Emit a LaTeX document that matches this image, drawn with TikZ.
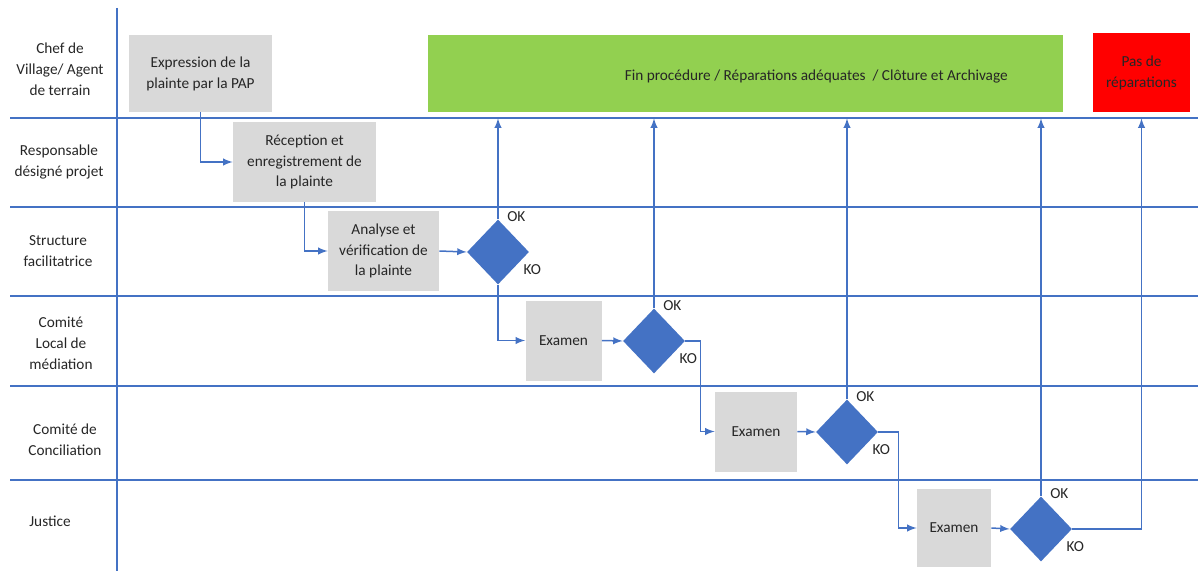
\documentclass[tikz,border=0pt]{standalone}
\usepackage{fontspec}
\setmainfont{Carlito}
\usetikzlibrary{
	arrows,
	positioning,
	shapes.geometric,
	calc,
}
\definecolor{LaneBlue}{HTML}{4472C4}
\definecolor{BoxGrey}{HTML}{D9D9D9}
\definecolor{FinGreen}{HTML}{92D050}
\definecolor{StopRed}{HTML}{FF0000}
\definecolor{InkGrey}{HTML}{262626}

\begin{document}
\begin{tikzpicture} [
            x=0.2mm, y=-0.2mm,
            every node/.style={align=center,text=InkGrey,font=\fontsize{8.7}{11.9}\selectfont},
            lane/.style={draw=LaneBlue,line width=0.3mm},
            comp/.style={fill=BoxGrey,minimum height=16mm,inner sep=1mm},
            decision/.style={diamond,fill=LaneBlue,minimum width=12.4mm,minimum height=13mm,inner sep=0pt,aspect=1},
            flow/.style={-latex,draw=LaneBlue,line width=0.3mm},
            answer/.style={anchor=west,inner sep=0pt}
        ]
        \useasboundingbox (0,0) rectangle (1198,571);

        % couloirs
        \draw[lane] (117,8) -- (117,571);
        \foreach \y in {118,207,296,386,480}
            \draw[lane] (10,\y) -- (1198,\y);

        \node at (60,69) (chef) {Chef de \\ Village/ Agent \\ de terrain};
        \node at (59,162) (resp) {Responsable \\ désigné projet};
        \node at (58,251) (struct) {Structure \\ facilitatrice};
        \node at (61,343) (clm) {Comité \\ Local de \\ médiation};
        \node at (65,440) (concil) {Comité de \\ Conciliation};
        \node at (50,521) (justice) {Justice};

        % etapes
        \node at (200.5,73.5) [comp,minimum width=28.6mm,minimum height=15.4mm] (expr) {
            Expression de la \\ plainte par la PAP
        };
        \node at (304.5,162) [comp,minimum width=28.6mm] (recep) {
            Réception et \\ enregistrement de \\ la plainte
        };
        \node at (383.5,251) [comp,minimum width=22.2mm] (analyse) {
            Analyse et \\ vérification de \\ la plainte
        };
        \node at (498,252) [decision] (d1) {};

        \node at (563.5,340.5) [comp,minimum width=15.2mm] (ex1) {Examen};
        \node at (654,341) [decision] (d2) {};

        \node at (756,431.5) [comp,minimum width=16.4mm] (ex2) {Examen};
        \node at (847,432) [decision] (d3) {};

        \node at (954,528) [comp,minimum width=14.8mm,minimum height=15.6mm] (ex3) {Examen};
        \node at (1041,529) [decision] (d4) {};

        \node at (745.5,73.5) [fill=FinGreen,minimum width=127mm,minimum height=15.4mm] (fin) {
            \raisebox{-1.4mm}[0pt][0pt]{\hspace*{29mm}Fin procédure / Réparations adéquates \ / Clôture et Archivage}
        };
        \node at (1141.5,72.5) [fill=StopRed,minimum width=19.4mm,minimum height=15.8mm] (stop) {
            Pas de \\ réparations
        };

        % OK / KO
        \foreach \d in {d1,d2,d3,d4} {
            \node[answer] at ([xshift=1.8mm,yshift=0.6mm]\d.north) {OK};
            \node[answer] at ([xshift=-1.2mm,yshift=-3.6mm]\d.east) {KO};
        }

        % liaisons
        \path[flow] (expr.south) |- (recep.west);
        \path[flow] (recep.south) |- (analyse.west);
        \path[flow] (analyse.east) -- (d1.west);
        \path[flow] (d1.south) |- (ex1.west);
        \path[flow] (ex1.east) -- (d2.west);
        \path[flow] (d2.east) -- ++(15,0) |- (ex2.west);
        \path[flow] (ex2.east) -- (d3.west);
        \path[flow] (d3.east) -- ++(20,0) |- (ex3.west);
        \path[flow] (ex3.east) -- (d4.west);

        \foreach \d in {d1,d2,d3,d4}
            \path[flow,shorten >=1.2mm] (\d.north) -- (\d.north |- fin.south);
        \path[flow,shorten >=1.2mm] (d4.east) -| (stop.south);
    \end{tikzpicture}
\end{document}
